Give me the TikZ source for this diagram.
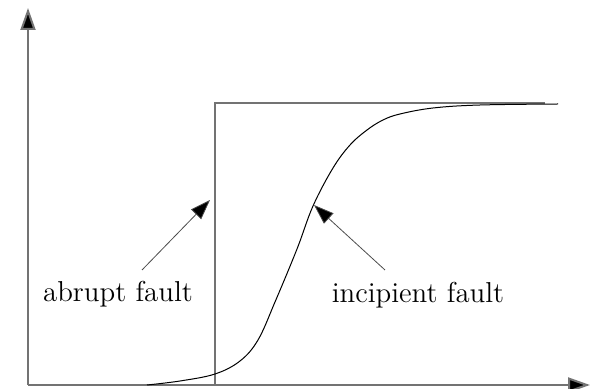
\documentclass[tikz,border=0pt]{standalone}
\usepackage{tikz}
\usetikzlibrary{arrows.meta}

\begin{document}
\begin{tikzpicture}[
        x=0.5pt, y=-0.5pt,
        axis/.style={draw=black!55, line width=1pt, -{Triangle[length=11pt, width=7.5pt, fill=black]}},
        stepline/.style={draw=black!55, line width=1pt},
        curve/.style={draw=black, line width=0.5pt},
        pointer/.style={draw=black!70, line width=0.4pt, -{Triangle[length=10pt, width=7pt, fill=black]}},
        label/.style={anchor=base, inner sep=0pt, font=\fontsize{14.4}{17}\selectfont}
    ]
        \useasboundingbox (0,0) rectangle (590,389);

        % axes
        \coordinate (origin) at (28,385);
        \draw[axis] (origin) -- (28,8);
        \draw[axis] (origin) -- (590,385);

        % abrupt change
        \draw[stepline] (215,385) -- (215,103) -- (545,103);

        % incipient change
        \draw[curve] plot[smooth, tension=0.6] coordinates {(147,385) (180,381) (215,374) (240,361)
            (258,340) (275,302) (297,249) (313,206) (333,168) (350,145) (367,130) (383,120)
            (400,114) (433,108) (480,105) (558,104)};

        % labels
        \node[label] (abrupt) at (118,302) {abrupt fault};
        \node[label] (incipient) at (418,303) {incipient fault};

        \coordinate (jump) at (210,200);
        \coordinate (slope) at (314,205);
        \draw[pointer] (142,270) -- (jump);
        \draw[pointer] (385,270) -- (slope);
    \end{tikzpicture}
\end{document}
